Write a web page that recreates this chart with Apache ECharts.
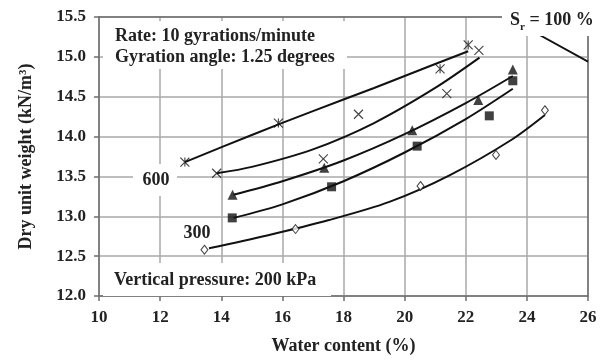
<!DOCTYPE html>
<html><head><meta charset="utf-8">
<script src="https://cdn.jsdelivr.net/npm/echarts@6/dist/echarts.min.js"></script>
<style>html,body{margin:0;padding:0;background:#fff}#c{width:603px;height:360px}</style>
</head><body><div id="c"></div>
<script>
// Markers (water content %, dry unit weight kN/m3)
const starW = [12.81, 15.87, 21.16, 22.08];
const starD = [13.68, 14.17, 14.85, 15.15];
const crossW = [13.85, 17.34, 18.49, 21.38, 22.43];
const crossD = [13.54, 13.72, 14.28, 14.54, 15.08];
const triW = [14.37, 17.37, 20.25, 22.41, 23.54];
const triD = [13.27, 13.61, 14.08, 14.46, 14.84];
const sqW = [14.36, 17.61, 20.41, 22.77, 23.54];
const sqD = [12.98, 13.37, 13.88, 14.26, 14.70];
const diaW = [13.45, 16.43, 20.52, 22.99, 24.59];
const diaD = [12.58, 12.84, 13.38, 13.77, 14.33];
// Trend curves
const fit1W = [12.81, 15.0, 17.0, 19.0, 21.0, 22.08];
const fit1D = [13.68, 14.02, 14.32, 14.61, 14.91, 15.07];
const fit2W = [13.85, 15.0, 17.0, 19.0, 21.0, 22.45];
const fit2D = [13.54, 13.62, 13.84, 14.17, 14.61, 14.99];
const fit3W = [14.4, 16.0, 18.0, 20.0, 22.0, 23.54];
const fit3D = [13.27, 13.44, 13.70, 14.03, 14.42, 14.76];
const fit4W = [14.4, 16.0, 18.0, 20.0, 22.0, 23.54];
const fit4D = [12.98, 13.15, 13.44, 13.80, 14.22, 14.60];
const fit5W = [13.6, 15.5, 17.5, 19.5, 21.5, 23.5, 24.59];
const fit5D = [12.60, 12.76, 12.95, 13.18, 13.52, 13.96, 14.27];
// Saturation line Sr = 100 %
const srW = [23.35, 26];
const srD = [15.5, 14.94];

const zip = (a, b) => a.map((v, i) => [v, b[i]]);
const FONT = 'Liberation Serif';
const border = '#6e6e6e';
const gridC = '#a9a9a9';
const TXT = '#222';

const chart = echarts.init(document.getElementById('c'), null, {renderer: 'canvas'});

function curve(w, d) {
  return {type: 'line', data: zip(w, d), smooth: 0.3, showSymbol: false, symbol: 'none',
    lineStyle: {color: '#111', width: 2}, z: 3, silent: true, animation: false};
}
function marks(w, d, symbol, size, style) {
  return {type: 'scatter', data: zip(w, d), symbol: symbol, symbolSize: size,
    itemStyle: style, z: 4, silent: true, animation: false};
}
const stroke = {color: 'rgba(0,0,0,0)', borderColor: '#111', borderWidth: 1.1};
const txt = (s, x, y, extra) => Object.assign({type: 'text', x: x, y: y, z: 51, silent: true,
  style: Object.assign({text: s, fontFamily: FONT, fontWeight: 'bold', fontSize: 18, fill: TXT, verticalAlign: 'middle'}, extra || {})});

chart.setOption({
  animation: false,
  backgroundColor: '#fff',
  grid: {left: 99, right: 15, top: 17, bottom: 60, containLabel: false},
  xAxis: [{
    type: 'value', min: 10, max: 26, interval: 2, position: 'bottom',
    axisLine: {show: true, onZero: false, lineStyle: {color: border, width: 1.5}},
    axisTick: {show: true, length: 5, lineStyle: {color: border, width: 1.5}},
    axisLabel: {fontFamily: FONT, fontWeight: 'bold', fontSize: 17, color: TXT, margin: 13},
    splitLine: {show: true, lineStyle: {color: gridC, width: 1.5}},
    name: 'Water content (%)', nameLocation: 'middle', nameGap: 41,
    nameTextStyle: {fontFamily: FONT, fontWeight: 'bold', fontSize: 18, color: TXT}
  }, {
    type: 'value', min: 10, max: 26, interval: 2, position: 'top',
    axisLine: {show: true, onZero: false, lineStyle: {color: border, width: 1.5}},
    axisTick: {show: false}, axisLabel: {show: false}, splitLine: {show: false}
  }],
  yAxis: [{
    type: 'value', min: 12, max: 15.5, interval: 0.5, position: 'left',
    axisLine: {show: true, onZero: false, lineStyle: {color: border, width: 1.5}},
    axisTick: {show: true, length: 5, lineStyle: {color: border, width: 1.5}},
    axisLabel: {fontFamily: FONT, fontWeight: 'bold', fontSize: 17, color: TXT, margin: 13,
      formatter: v => v.toFixed(1)},
    splitLine: {show: true, lineStyle: {color: gridC, width: 1.5}},
    name: 'Dry unit weight (kN/m³)', nameLocation: 'middle', nameGap: 64, nameRotate: 90,
    nameTextStyle: {fontFamily: FONT, fontWeight: 'bold', fontSize: 18, color: TXT}
  }, {
    type: 'value', min: 12, max: 15.5, interval: 0.5, position: 'right',
    axisLine: {show: true, onZero: false, lineStyle: {color: border, width: 1.5}},
    axisTick: {show: false}, axisLabel: {show: false}, splitLine: {show: false}
  }],
  series: [
    curve(fit1W, fit1D), curve(fit2W, fit2D), curve(fit3W, fit3D),
    curve(fit4W, fit4D), curve(fit5W, fit5D),
    {type: 'line', data: zip(srW, srD), showSymbol: false, symbol: 'none',
      lineStyle: {color: '#111', width: 1.8}, z: 3, silent: true, animation: false},
    marks(starW, starD, 'path://M0,0L10,10M10,0L0,10M5,0L5,10', 9, stroke),
    marks(crossW, crossD, 'path://M0,0L10,10M10,0L0,10', 9, stroke),
    marks(triW, triD, 'triangle', 10, {color: '#111'}),
    marks(sqW, sqD, 'rect', 9, {color: '#111'}),
    marks(diaW, diaD, 'diamond', [7, 9], {color: '#fff', borderColor: '#111', borderWidth: 1})
  ],
  graphic: {elements: [
    {type: 'rect', shape: {x: 103, y: 21, width: 244, height: 48}, style: {fill: '#fff'}, z: 50, silent: true},
    txt('Rate: 10 gyrations/minute', 115, 36),
    txt('Gyration angle: 1.25 degrees', 115, 57),
    {type: 'rect', shape: {x: 103, y: 263, width: 228, height: 33}, style: {fill: '#fff'}, z: 50, silent: true},
    txt('Vertical pressure: 200 kPa', 114, 280),
    {type: 'rect', shape: {x: 133, y: 164, width: 44, height: 32}, style: {fill: '#fff'}, z: 50, silent: true},
    txt('600', 156, 180, {align: 'center'}),
    txt('300', 197, 233, {align: 'center', backgroundColor: '#fff', padding: [2, 3]}),
    {type: 'rect', shape: {x: 502, y: 0, width: 101, height: 36}, style: {fill: '#fff'}, z: 60, silent: true},
    {type: 'text', x: 510, y: 20, z: 61, silent: true,
      style: {text: '{s|S}{r|r}{s| = 100 %}', verticalAlign: 'middle',
        rich: {
          s: {fontFamily: FONT, fontWeight: 'bold', fontSize: 18, fill: TXT, lineHeight: 20, verticalAlign: 'middle'},
          r: {fontFamily: FONT, fontWeight: 'bold', fontSize: 11, fill: TXT, lineHeight: 11, verticalAlign: 'bottom', padding: [0, 0, -3, 0]}
        }}}
  ]}
});
</script></body></html>
